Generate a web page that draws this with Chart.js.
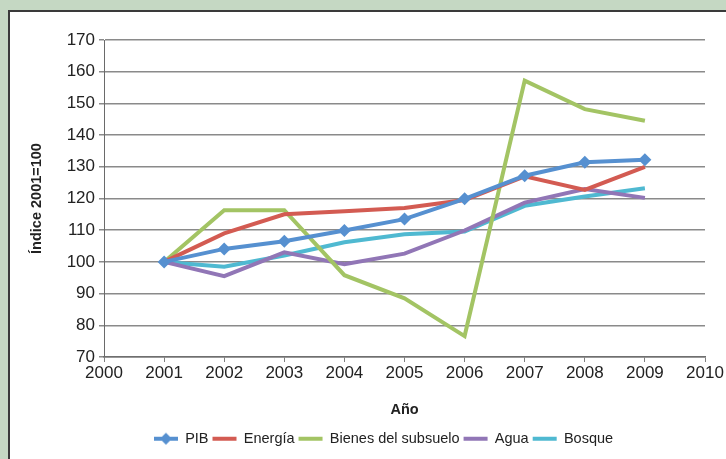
<!DOCTYPE html>
<html>
<head>
<meta charset="utf-8">
<script src="https://cdn.jsdelivr.net/npm/chart.js@4"></script>
<style>
  html, body { margin: 0; padding: 0; }
  body { width: 726px; height: 459px; background: #c5d8c3; position: relative; overflow: hidden; }
  .frame { position: absolute; left: 8px; top: 10px; width: 740px; height: 470px; background: #fff;
           border-top: 2px solid #3a3a3a; border-left: 2px solid #3a3a3a; }
  #wrap { position: absolute; left: 0; top: 0; width: 726px; height: 459px; }
</style>
</head>
<body>
<div class="frame"></div>
<div id="wrap"><canvas id="chart"></canvas></div>
<script>
// Datos (índice 2001=100)
const years = [2001, 2002, 2003, 2004, 2005, 2006, 2007, 2008, 2009];
const pib = [100, 104.1, 106.5, 109.9, 113.5, 119.9, 127.2, 131.4, 132.2];
const energia = [100, 109, 115, 116, 117, 119.5, 127, 122.7, 130];
const bienes = [100, 116.3, 116.3, 95.8, 88.5, 76.6, 157.2, 148.2, 144.5];
const agua = [100, 95.5, 103, 99.3, 102.6, 109.9, 118.7, 123, 120.2];
const bosque = [100, 98.5, 102, 106.2, 108.7, 109.6, 117.7, 120.6, 123.2];

const names = ["PIB", "Energía", "Bienes del subsuelo", "Agua", "Bosque"];
const series = [pib, energia, bienes, agua, bosque];
const colors = ["#5690d0", "#d35b52", "#a3c464", "#9176b6", "#4fb9d1"];

const yTicks = [70, 80, 90, 100, 110, 120, 130, 140, 150, 160, 170];
const xRange = [2000, 2010];

Chart.defaults.font.family = "'Liberation Sans', Arial, sans-serif";
Chart.defaults.color = "#222";

// Legend icon for PIB: line + diamond
function pibIcon() {
  const c = document.createElement("canvas");
  c.width = 24; c.height = 14;
  const g = c.getContext("2d");
  g.strokeStyle = colors[0];
  g.lineWidth = 4;
  g.beginPath(); g.moveTo(0, 7); g.lineTo(24, 7); g.stroke();
  g.fillStyle = colors[0];
  g.beginPath(); g.moveTo(12, 1); g.lineTo(18, 7); g.lineTo(12, 13); g.lineTo(6, 7); g.closePath(); g.fill();
  return c;
}
const pibLegend = pibIcon();

// move legend so it sits where the original one is
const shiftLegend = {
  id: "shiftLegend",
  afterLayout(chart) {
    chart.legend.left += 31;
    chart.legend.right += 31;
  }
};

const datasets = series.map((vals, i) => ({
  label: names[i],
  data: years.map((yr, j) => ({ x: yr, y: vals[j] })),
  borderColor: colors[i],
  backgroundColor: colors[i],
  borderWidth: 4,
  tension: 0,
  pointStyle: i === 0 ? "rectRot" : false,
  pointRadius: i === 0 ? 6.5 : 0,
  pointBorderWidth: 0,
  fill: false
}));

new Chart(document.getElementById("chart"), {
  type: "line",
  data: { datasets },
  plugins: [shiftLegend],
  options: {
    responsive: true,
    maintainAspectRatio: false,
    animation: false,
    layout: { padding: { left: 0, right: 21, top: 40, bottom: 3 } },
    plugins: {
      tooltip: { enabled: false },
      legend: {
        position: "bottom",
        labels: {
          usePointStyle: true,
          pointStyleWidth: 24,
          padding: 4,
          color: "#222",
          font: { size: 14.5 },
          generateLabels: (chart) => chart.data.datasets.map((ds, i) => ({
            text: ds.label,
            fillStyle: ds.borderColor,
            strokeStyle: ds.borderColor,
            fontColor: "#222",
            lineWidth: 4,
            pointStyle: i === 0 ? pibLegend : "line",
            datasetIndex: i
          }))
        }
      }
    },
    scales: {
      x: {
        type: "linear",
        min: xRange[0],
        max: xRange[1],
        afterFit: (s) => { s.height = 70.5; },
        ticks: { stepSize: 1, font: { size: 17 }, color: "#222", padding: 1, callback: (v) => String(v) },
        grid: { drawOnChartArea: false, tickLength: 5, color: "#808080" },
        border: { color: "#6f6f6f", width: 1.5 },
        title: { display: true, text: "Año", font: { size: 14.5, weight: "bold" }, color: "#222", padding: { top: 0, bottom: 9 } }
      },
      y: {
        min: yTicks[0],
        max: yTicks[yTicks.length - 1],
        afterFit: (s) => { s.width = 104; },
        afterBuildTicks: (s) => { s.ticks = yTicks.map(v => ({ value: v })); },
        ticks: { font: { size: 17 }, color: "#222", padding: 4 },
        grid: { color: "#8a8a8a", lineWidth: 1.5, tickLength: 5 },
        border: { color: "#6a6a6a", width: 1 },
        title: { display: true, text: "Índice 2001=100", font: { size: 14.5, weight: "bold" }, color: "#222", padding: { top: 28, bottom: 0 } }
      }
    }
  }
});
</script>
</body>
</html>
